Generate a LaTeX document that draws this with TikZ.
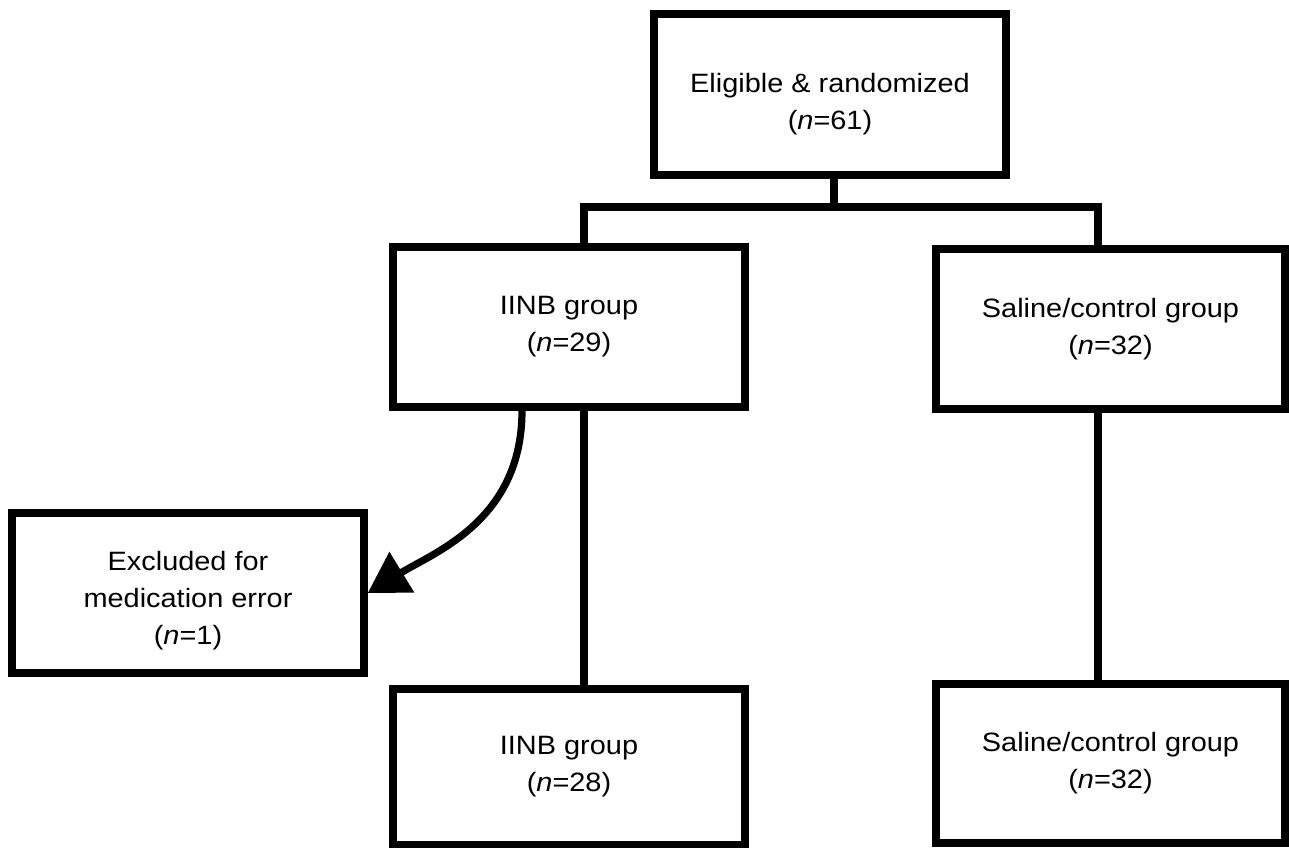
\documentclass[tikz,border=0pt]{standalone}
\usepackage{fontspec}
\setmainfont{Liberation Sans}[FakeStretch=1.09]
\usetikzlibrary{arrows.meta}
\newcommand\mytopstrut[1]{\rule{0pt}{#1}}
\begin{document}
\begin{tikzpicture}[x=0.75pt,y=-0.75pt,
  box/.style={draw=black, line width=5.6pt, fill=white, align=center, inner sep=0pt,
    font=\fontsize{19.9pt}{27.8pt}\selectfont},
  conn/.style={line width=5.4pt, draw=black},
  tip/.style={-{Triangle[length=30pt,width=34.5pt]}}
]
\useasboundingbox (0,0) rectangle (1289,848);
\fill[white] (0,0) rectangle (1289,848);

\node[box, minimum width=264pt, minimum height=120.75pt] (top) at (830,94.5) {\mytopstrut{29.5pt}Eligible \& randomized\\(\textit{n}=61)};
\node[box, minimum width=264pt, minimum height=120pt] (iinb) at (569,327) {IINB group\\(\textit{n}=29)};
\node[box, minimum width=261.75pt, minimum height=120pt] (sal) at (1110.5,329) {Saline/control group\\(\textit{n}=32)};
\node[box, minimum width=264pt, minimum height=120pt] (excl) at (188,593) {\mytopstrut{26.5pt}Excluded for\\medication error\\(\textit{n}=1)};
\node[box, minimum width=264pt, minimum height=117pt] (iinb2) at (569,767) {IINB group\\(\textit{n}=28)};
\node[box, minimum width=261.75pt, minimum height=119.25pt] (sal2) at (1110.5,763.5) {Saline/control group\\(\textit{n}=32)};

\coordinate (split) at (834,207);
\coordinate (jl) at (584,207);
\coordinate (jr) at (1098,207);
\coordinate (cs) at (522,0);

\draw[conn] (top.south -| split) -- (split);
\draw[conn] (jl |- iinb.north) -- (jl) -- (jr) -- (jr |- sal.north);
\draw[conn] (iinb.south -| jl) -- (iinb2.north -| jl);
\draw[conn] (sal.south -| jr) -- (sal2.north -| jr);
\draw[conn, tip] (iinb.south -| cs) .. controls (522,520) and (435,552) .. (excl.east);
\end{tikzpicture}
\end{document}
